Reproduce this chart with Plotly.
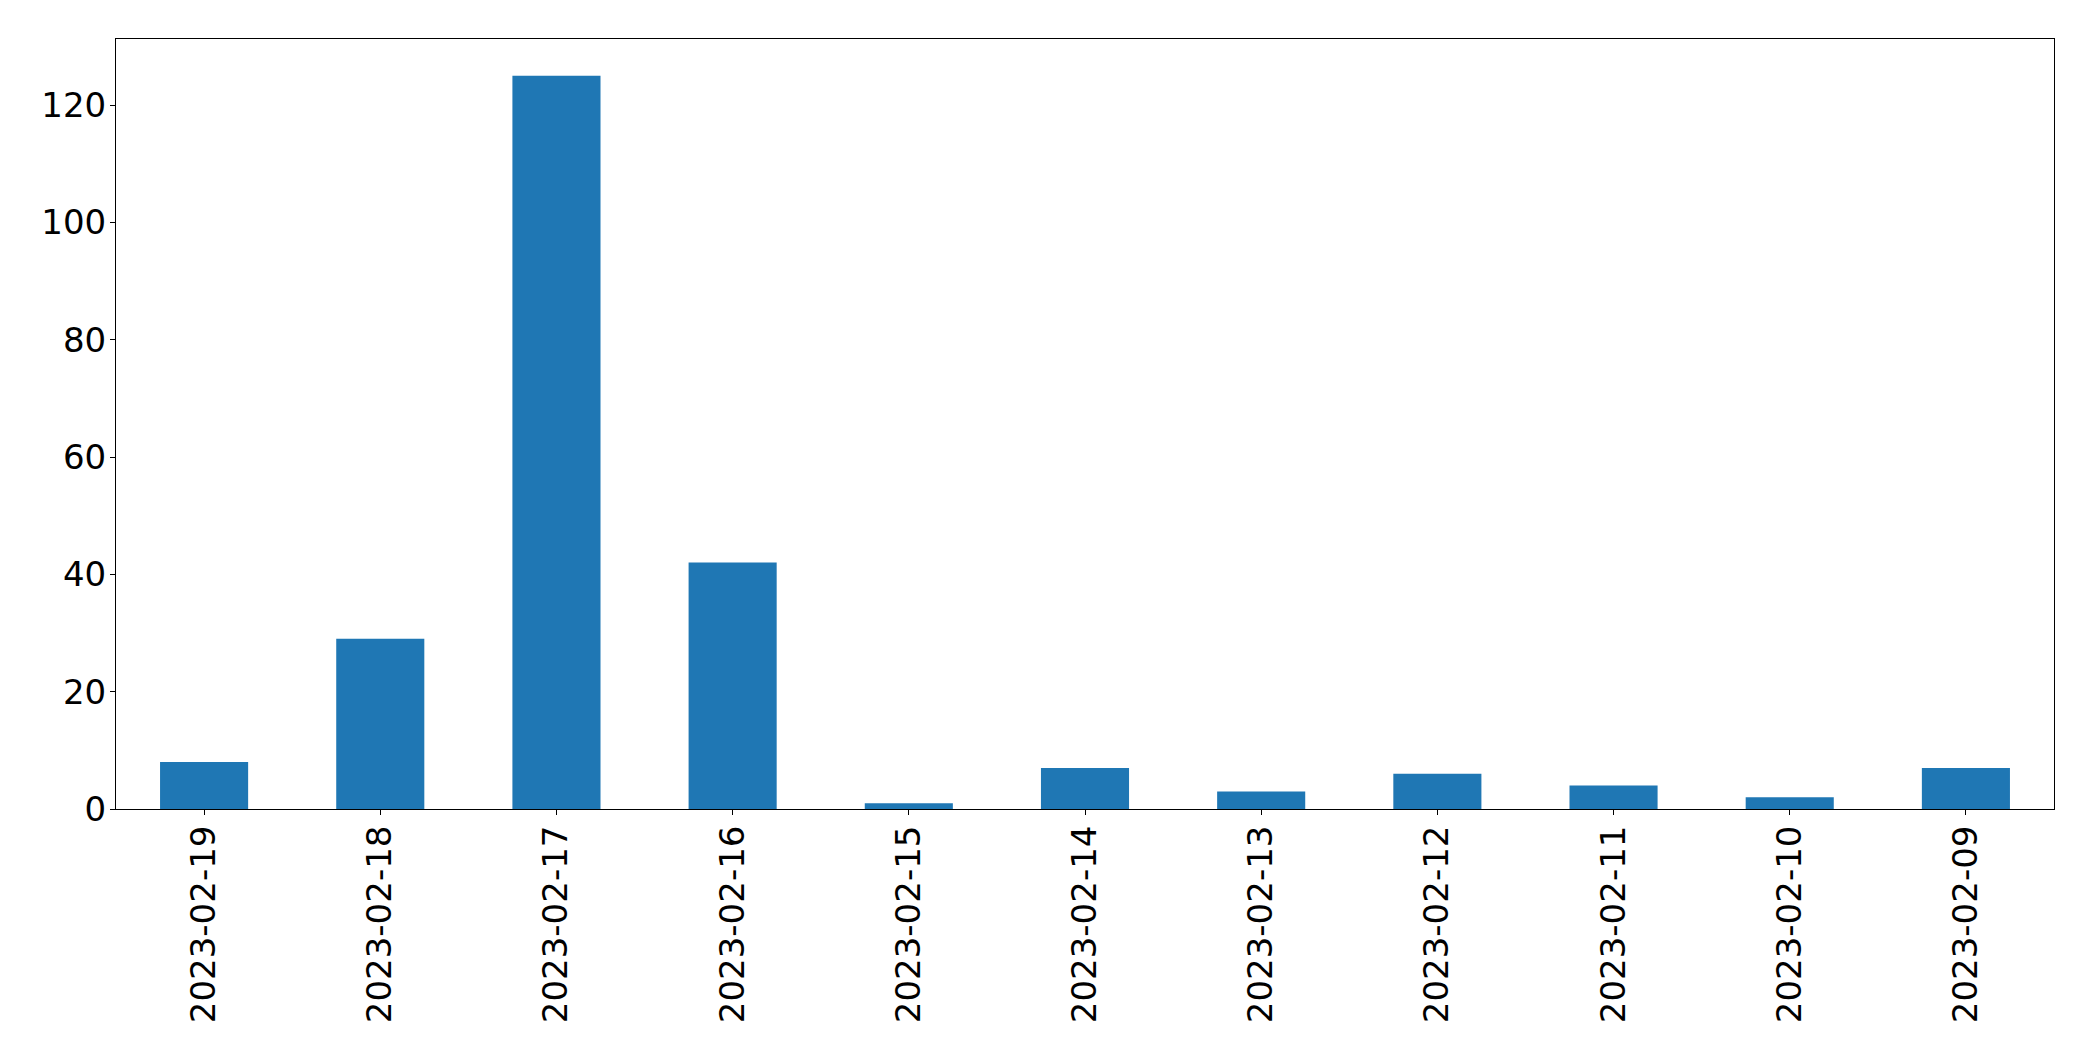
import plotly.graph_objects as go

dates = ["2023-02-19", "2023-02-18", "2023-02-17", "2023-02-16", "2023-02-15",
         "2023-02-14", "2023-02-13", "2023-02-12", "2023-02-11", "2023-02-10",
         "2023-02-09"]
counts = [8, 29, 125, 42, 1, 7, 3, 6, 4, 2, 7]
y_ticks = [0, 20, 40, 60, 80, 100, 120]

fig = go.Figure(go.Bar(x=dates, y=counts, marker=dict(color="#1f77b4", line=dict(width=0))))

fig.update_layout(
    width=2093, height=1061,
    margin=dict(l=116, r=39, t=39, b=252),
    paper_bgcolor="white", plot_bgcolor="white",
    bargap=0.5,
    showlegend=False,
    font=dict(family="DejaVu Sans", size=34, color="black"),
)
fig.update_xaxes(
    type="category", range=[-0.5, len(dates) - 0.5],
    tickangle=-90, ticks="outside", ticklen=5, tickwidth=1, tickcolor="black",
    showline=True, linecolor="black", linewidth=1, mirror=True,
    showgrid=False, zeroline=False, ticklabelstandoff=-3,
    tickfont=dict(size=34, family="DejaVu Sans", color="black"),
)
fig.update_yaxes(
    range=[0, max(counts) * 1.05], tickvals=y_ticks,
    ticks="outside", ticklen=5, tickwidth=1, tickcolor="black",
    showline=True, linecolor="black", linewidth=1, mirror=True,
    showgrid=False, zeroline=False, ticklabelstandoff=-3,
    tickfont=dict(size=34, family="DejaVu Sans", color="black"),
)

fig.write_html(
    "out.html",
    config={"displayModeBar": False},
    post_script="document.body.style.margin='0px';document.body.style.overflow='hidden';",
)
